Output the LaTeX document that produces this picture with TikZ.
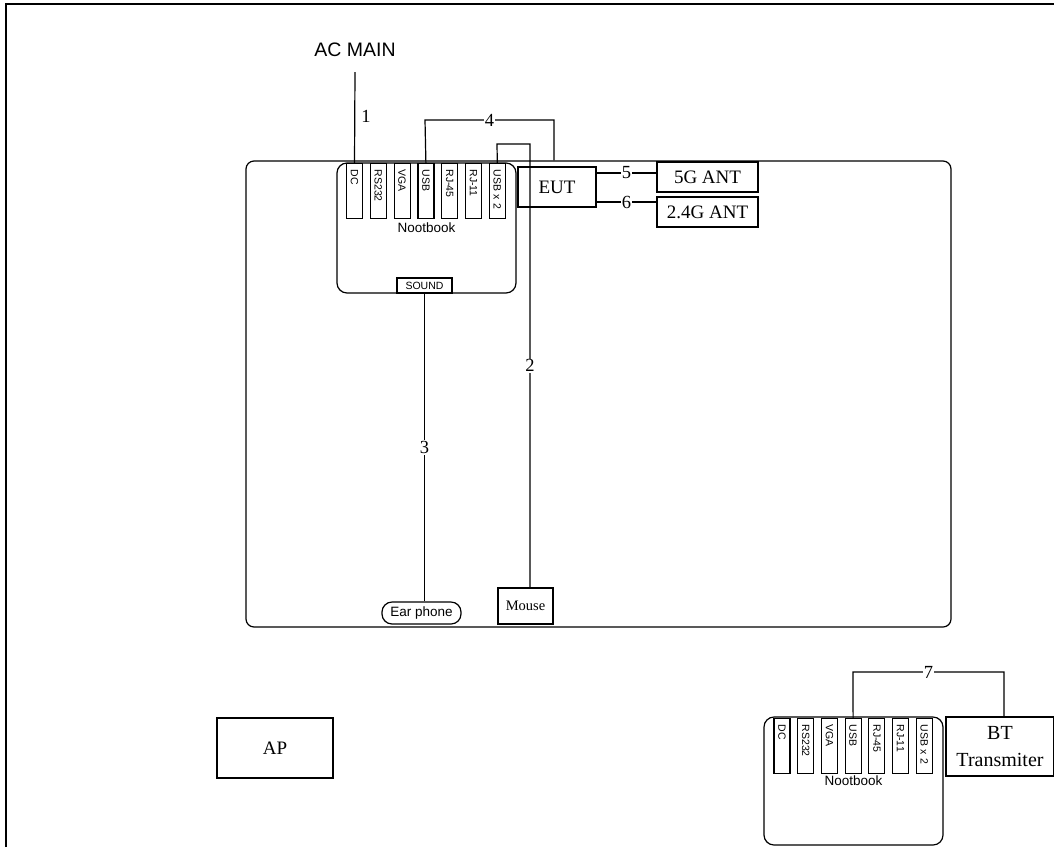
\documentclass[tikz,border=0pt]{standalone}
\usepackage{fontspec}
\setmainfont{Liberation Serif}
\setsansfont{Liberation Sans}
\begin{document}
\begin{tikzpicture}[x=1pt,y=-1pt,line width=1.2pt,
  box/.style={draw, inner sep=0pt, font=\fontsize{19}{21}\selectfont},
  portbox/.style={draw, rotate=-90, minimum height=16pt, text width=43pt, inner xsep=6pt, inner ysep=0pt, align=left, font=\sffamily\fontsize{10.5}{11}\selectfont},
  nbbox/.style={draw, rounded corners=10pt, minimum width=179pt, minimum height=130pt, inner sep=0pt, font=\sffamily\fontsize{13.5}{14}\selectfont},
  num/.style={fill=white, inner sep=1pt, font=\fontsize{18.5}{20}\selectfont},
  sanslab/.style={font=\sffamily\fontsize{19.5}{21}\selectfont}]
\useasboundingbox (0,0) rectangle (1054,847);
% frame
\draw[line width=2pt] (6,847) -- (6,4) -- (1054,4);
% table
\node[draw, rounded corners=8pt, minimum width=705pt, minimum height=466pt, inner sep=0pt] (tbl) at (598.5,394) {};
% notebook 1
\node[nbbox] (nb1) at (426.5,228) {Nootbook};
\foreach \t [count=\i] in {DC,RS232,VGA,USB,RJ-45,RJ-11,USB x 2}
  \node[portbox, anchor=west] (p\i) at ({354.5+23.8*(\i-1)},163) {\t};
\node[draw, minimum width=55pt, minimum height=15pt, inner sep=0pt, font=\sffamily\fontsize{10.5}{11}\selectfont] (snd) at (424.5,285.5) {SOUND};
% AC main
\node[sanslab] (ac) at (355,50) {AC MAIN};
\coordinate (acend) at (355,72);
\draw (p1.west) -- (acend);
\node[font=\fontsize{18.5}{20}\selectfont, inner sep=0pt] at (366,116) {1};
% EUT and antennas
\node[box, minimum width=78pt, minimum height=40pt] (eut) at (557,187) {EUT};
\node[box, minimum width=101pt, minimum height=30pt] (ant5) at (707.5,177) {5G ANT};
\node[box, minimum width=101pt, minimum height=30pt] (ant24) at (707.5,212) {2.4G ANT};
\draw ([yshift=14pt]eut.east) -- node[num]{5} ([yshift=4pt]ant5.west);
\draw ([yshift=-15pt]eut.east) -- node[num]{6} ([yshift=10pt]ant24.west);
% mouse and ear phone
\node[draw, minimum width=55pt, minimum height=36pt, inner sep=0pt, font=\fontsize{14.5}{16}\selectfont] (mouse) at (525.5,606) {Mouse};
\node[draw, rounded corners=10pt, minimum width=79pt, minimum height=22pt, inner sep=0pt, font=\sffamily\fontsize{13.5}{14}\selectfont] (ear) at (421.5,613) {Ear phone};
% line 4
\coordinate (c4a) at (425,120);
\coordinate (c4b) at (554,120);
\draw (p4.west) -- (c4a) -- node[num, pos=0.5]{4} (c4b) -- (c4b |- tbl.north);
% line 2
\coordinate (c2a) at (497,144);
\coordinate (c2b) at (530,144);
\draw (p7.west) -- (c2a) -- (c2b) -- node[num, pos=0.5]{2} (c2b |- mouse.north);
% line 3
\draw (snd.south) -- node[num]{3} (snd.south |- ear.north);
% AP
\node[box, minimum width=116pt, minimum height=60pt] (ap) at (275,748) {AP};
% notebook 2
\node[nbbox, minimum height=128pt] (nb2) at (853.5,781) {Nootbook};
\foreach \t [count=\i] in {DC,RS232,VGA,USB,RJ-45,RJ-11,USB x 2}
  \node[portbox, anchor=west] (q\i) at ({782+23.7*(\i-1)},718) {\t};
\node[box, minimum width=108pt, minimum height=59pt, align=center, font=\fontsize{20}{27}\selectfont] (bt) at (1000,746.5) {BT\\Transmiter};
\coordinate (c7a) at (853,672);
\coordinate (c7b) at (1004,672);
\draw (q4.west) -- (c7a) -- node[num, pos=0.5]{7} (c7b) -- (c7b |- bt.north);
\end{tikzpicture}
\end{document}
